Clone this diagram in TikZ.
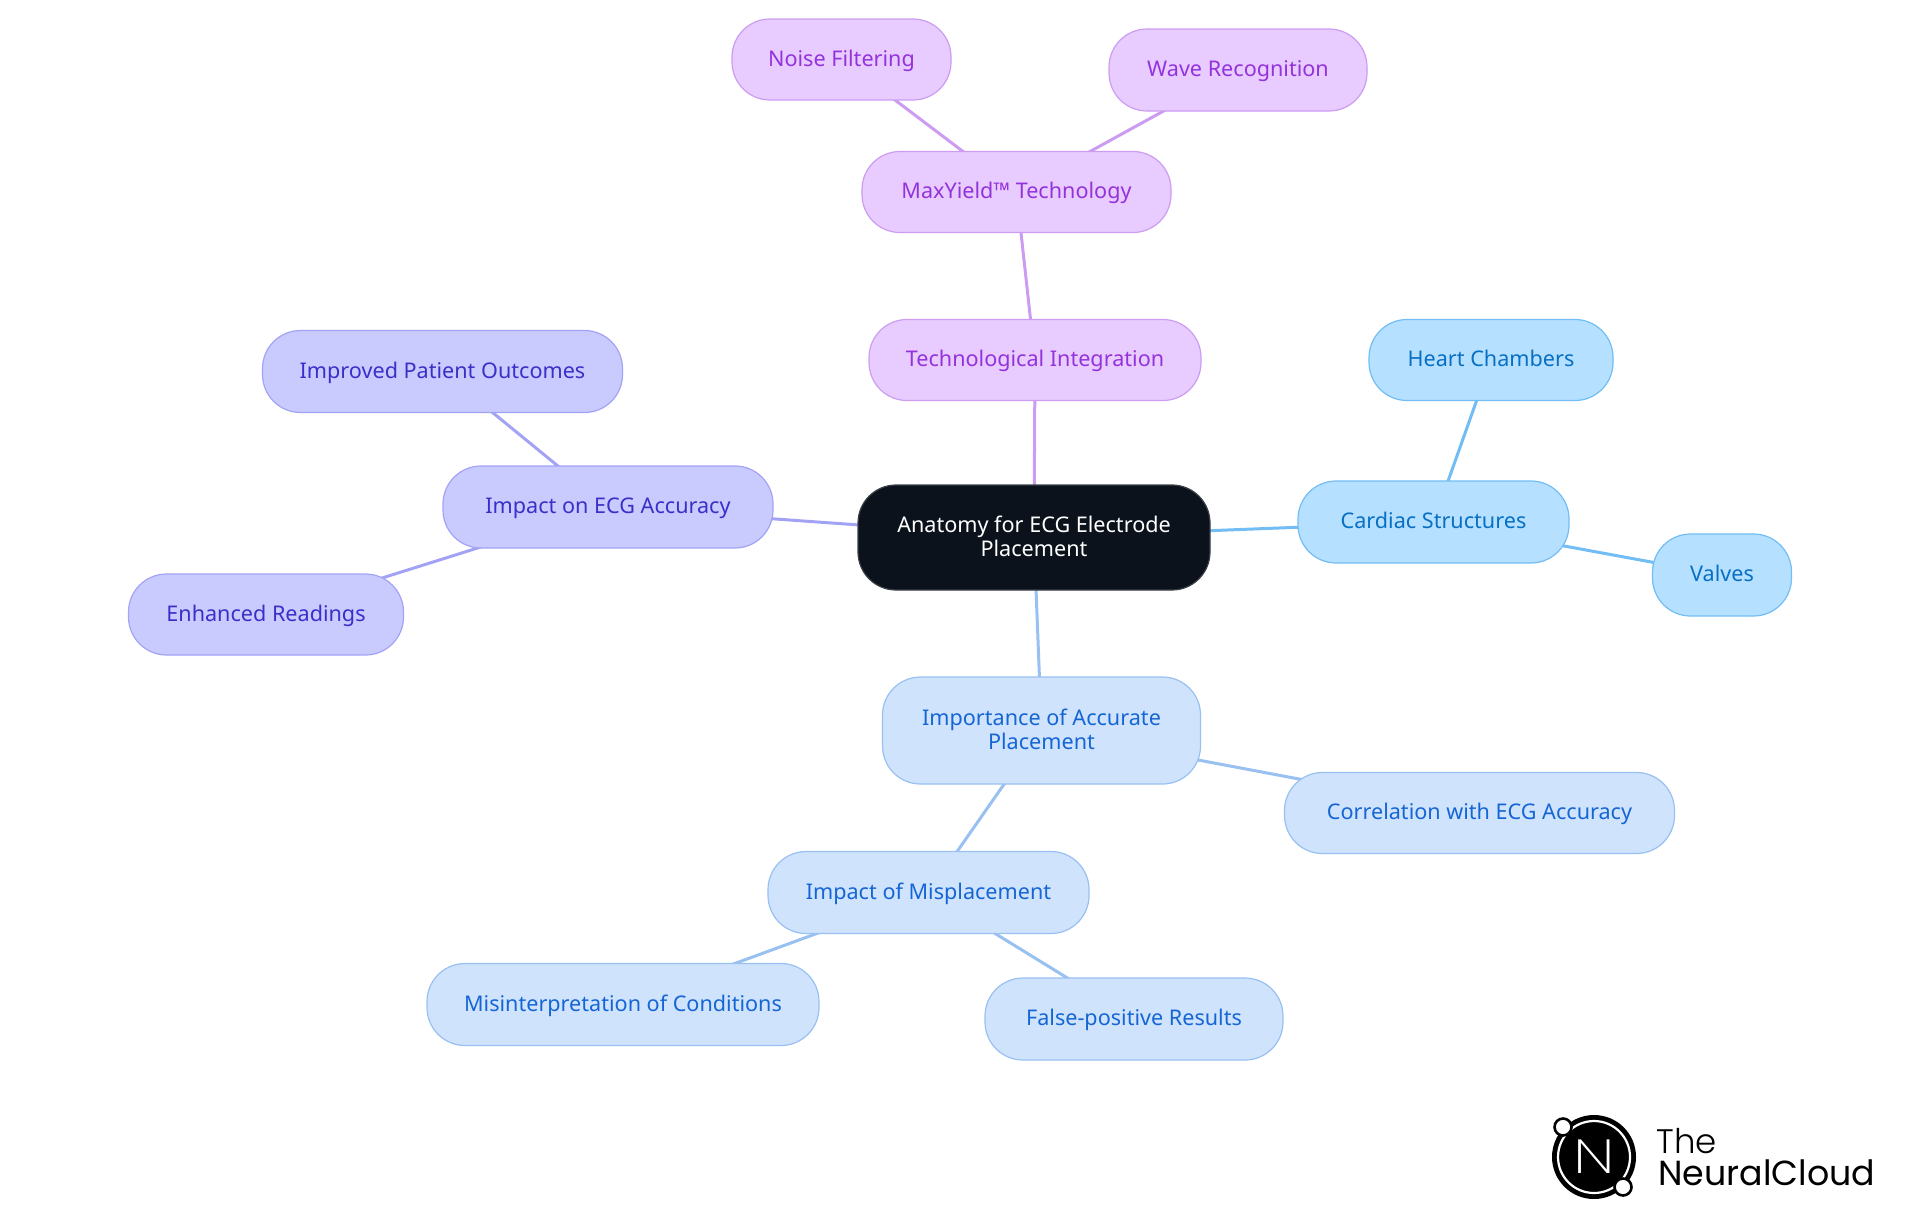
\documentclass[tikz,border=0pt]{standalone}
\usepackage{fontspec}
\setmainfont{Noto Sans}
\newfontfamily\logofont[UprightFont=* Light]{Poppins}
\newfontfamily\logothinfont[UprightFont=* ExtraLight]{Poppins}
\newfontfamily\logoboldfont{Poppins}
\usetikzlibrary{backgrounds}
\definecolor{purpfill}{HTML}{E8CBFF}
\definecolor{purpline}{HTML}{CC9CF2}
\definecolor{purptext}{HTML}{9333DC}
\definecolor{skyfill}{HTML}{B6E0FF}
\definecolor{skyline}{HTML}{72BDF3}
\definecolor{skytext}{HTML}{0770C4}
\definecolor{palefill}{HTML}{CFE3FD}
\definecolor{paleline}{HTML}{98C0F1}
\definecolor{paletext}{HTML}{1566D4}
\definecolor{indfill}{HTML}{C9CBFF}
\definecolor{indline}{HTML}{A3A3F6}
\definecolor{indtext}{HTML}{3A2FC8}
\definecolor{rootfill}{HTML}{0B121B}
\begin{document}
\begin{tikzpicture}[x=0.5pt,y=-0.5pt,
  main node/.style={rectangle,rounded corners=19pt,inner sep=0pt,line width=.6pt,align=center,font=\fontsize{10.8}{11.9}\selectfont},
  one line/.style={text height=9pt,text depth=2.4pt},
  two lines/.style={text height=,text depth=1.2pt},
  root node/.style={main node,fill=rootfill,draw=rootfill!80!white,text=white},
  purp node/.style={main node,one line,fill=purpfill,draw=purpline,text=purptext},
  sky node/.style={main node,one line,fill=skyfill,draw=skyline,text=skytext},
  pale node/.style={main node,one line,fill=palefill,draw=paleline,text=paletext},
  ind node/.style={main node,one line,fill=indfill,draw=indline,text=indtext},
  dot node/.style={circle,fill=white,draw=black,line width=1.3pt,minimum size=8.5pt,inner sep=0pt}]
\useasboundingbox (0,0) rectangle (1920,1215);
\node [root node,two lines,minimum width=176pt,minimum height=52.5pt](v1) at (1034,537.5) {Anatomy for ECG Electrode\\Placement};
\node [purp node,minimum width=166pt,minimum height=40.5pt](v2) at (1035,360) {Technological Integration};
\node [purp node,minimum width=154.5pt,minimum height=40.5pt](v3) at (1016.5,192) {MaxYield™ Technology};
\node [purp node,minimum width=109.5pt,minimum height=40.5pt](v4) at (841.5,59.5) {Noise Filtering};
\node [purp node,minimum width=129pt,minimum height=41pt](v5) at (1238,70) {Wave Recognition};
\node [sky node,minimum width=135.5pt,minimum height=41pt](v6) at (1433.5,522) {Cardiac Structures};
\node [sky node,minimum width=122pt,minimum height=40.5pt](v7) at (1491,360) {Heart Chambers};
\node [sky node,minimum width=69.5pt,minimum height=41pt](v8) at (1722,575) {Valves};
\node [pale node,two lines,minimum width=159pt,minimum height=53.5pt](v9) at (1041.5,730.5) {Importance of Accurate\\Placement};
\node [pale node,minimum width=195pt,minimum height=40.5pt](v10) at (1479.5,813) {Correlation with ECG Accuracy};
\node [pale node,minimum width=160.5pt,minimum height=41pt](v11) at (928.5,892.5) {Impact of Misplacement};
\node [pale node,minimum width=196pt,minimum height=41pt](v12) at (623,1004.5) {Misinterpretation of Conditions};
\node [pale node,minimum width=149pt,minimum height=41pt](v13) at (1134,1019) {False-positive Results};
\node [ind node,minimum width=165pt,minimum height=41pt](v14) at (608,507) {Impact on ECG Accuracy};
\node [ind node,minimum width=180pt,minimum height=41pt](v15) at (442.5,371.5) {Improved Patient Outcomes};
\node [ind node,minimum width=137.5pt,minimum height=40.5pt](v16) at (266,614.5) {Enhanced Readings};
% logo
\node [circle,fill=black,minimum size=42pt,inner sep=0pt](logo) at (1594,1157) {};
\node [circle,draw=white,line width=1.1pt,minimum size=36pt,inner sep=0pt,text=white,font=\logothinfont\fontsize{24}{24}\selectfont](logon) at (1594,1157) {\scalebox{1.3}[1]{N}};
\node [dot node](dota) at (1563,1127) {};
\node [dot node](dotb) at (1623,1187) {};
\node [anchor=base west,inner sep=0pt,font=\logofont\fontsize{17}{17}\selectfont](logot) at (1656,1153) {The};
\node [anchor=base west,inner sep=0pt,font=\logoboldfont\fontsize{17.4}{17}\selectfont](logoc) at (1658,1185) {NeuralCloud};
\begin{scope}[on background layer,every edge/.append style={line width=1.5pt}]
\path
	(v1.center) edge[purpline] (v2.center)
	(v2.center) edge[purpline] (v3.center)
	(v3.center) edge[purpline] (v4.center)
	(v3.center) edge[purpline] (v5.center)
	(v1.center) edge[skyline] (v6.center)
	(v6.center) edge[skyline] (v7.center)
	(v6.center) edge[skyline] (v8.center)
	(v1.center) edge[paleline] (v9.center)
	(v9.center) edge[paleline] (v10.center)
	(v9.center) edge[paleline] (v11.center)
	(v11.center) edge[paleline] (v12.center)
	(v11.center) edge[paleline] (v13.center)
	(v1.center) edge[indline] (v14.center)
	(v14.center) edge[indline] (v15.center)
	(v14.center) edge[indline] (v16.center)
	;
\end{scope}
\end{tikzpicture}
\end{document}
